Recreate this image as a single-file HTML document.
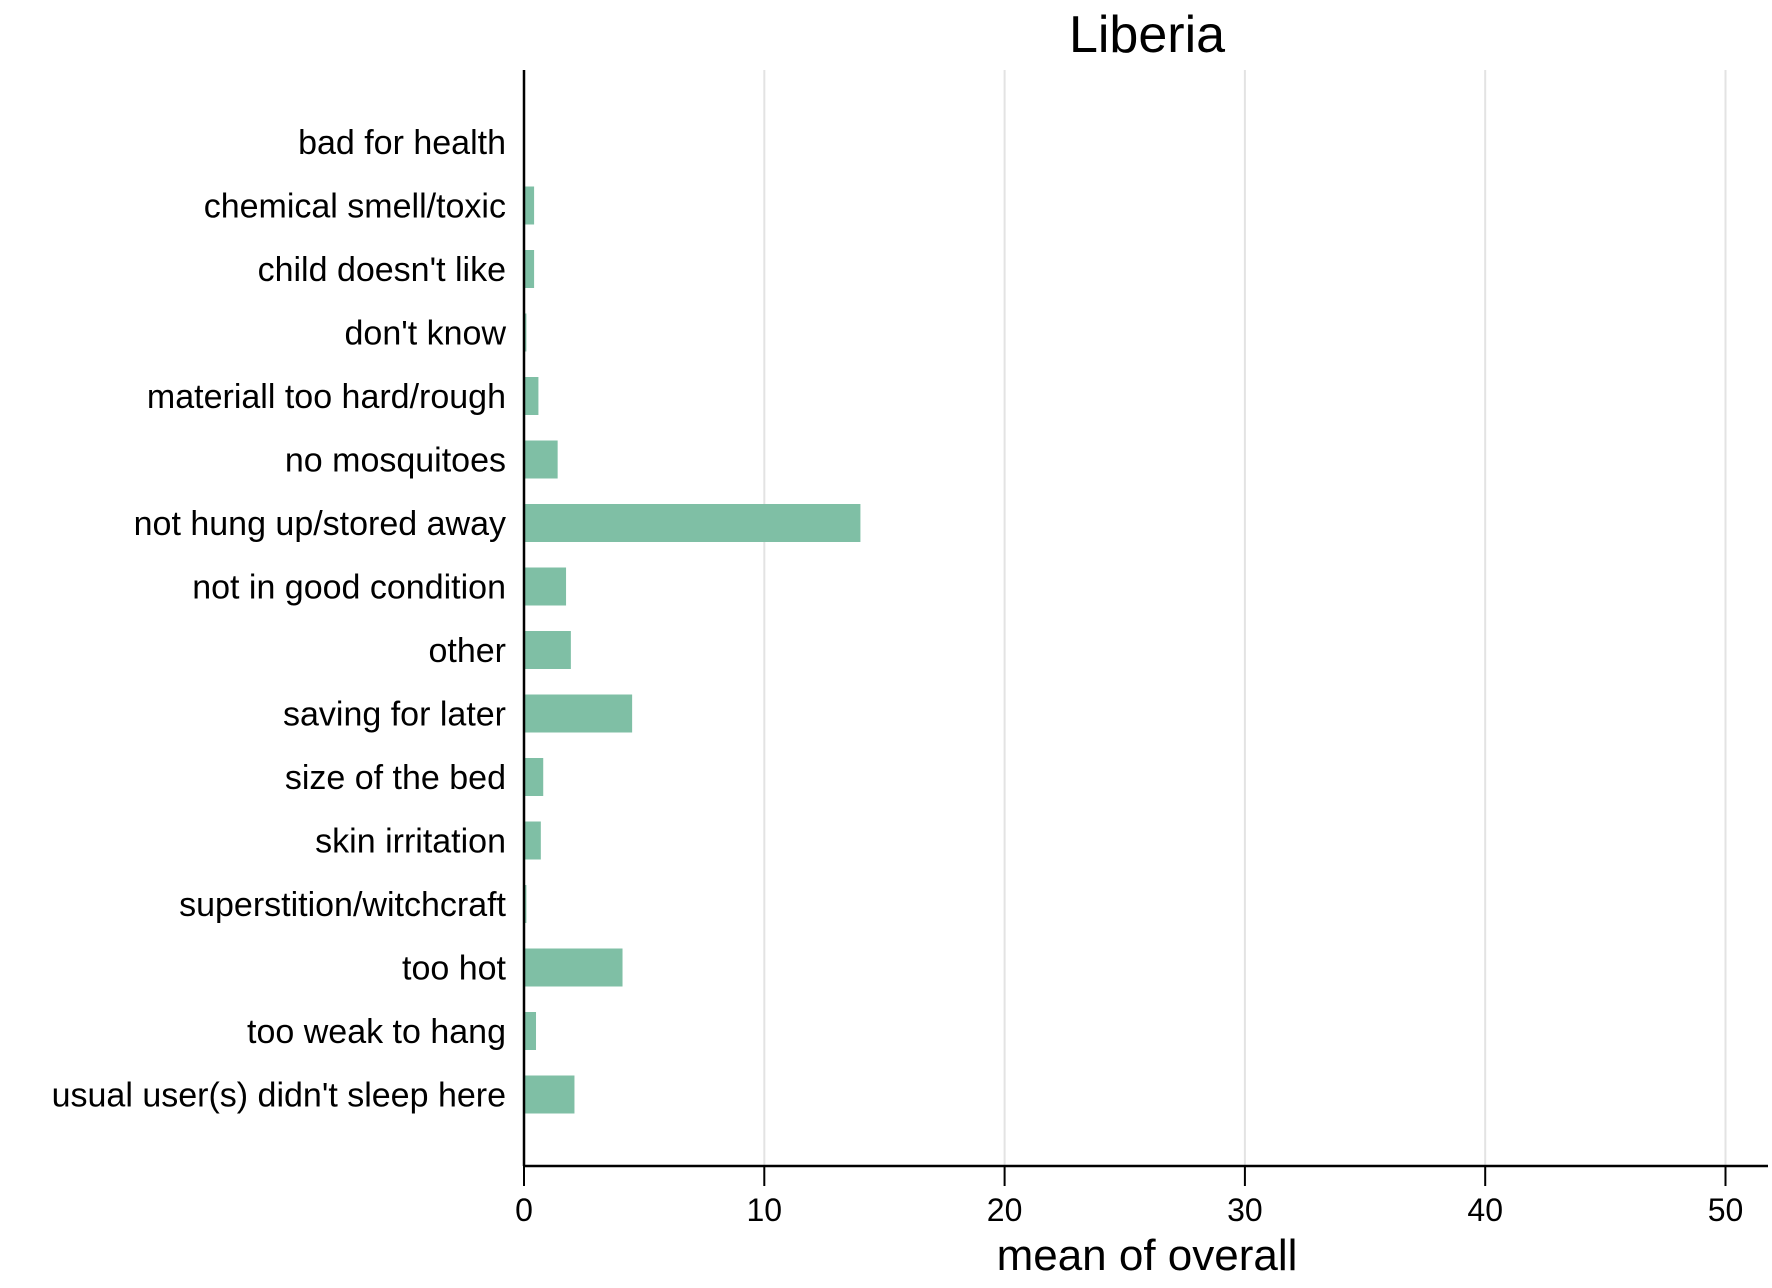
<!DOCTYPE html>
<html><head><meta charset="utf-8"><style>body{margin:0;background:#fff}svg{display:block}text{font-family:"Liberation Sans",sans-serif;fill:#000}</style></head>
<body>
<svg id="chart" width="1772" height="1288"></svg>
<script>
const categories = ["bad for health","chemical smell/toxic","child doesn't like","don't know","materiall too hard/rough","no mosquitoes","not hung up/stored away","not in good condition","other","saving for later","size of the bed","skin irritation","superstition/witchcraft","too hot","too weak to hang","usual user(s) didn't sleep here"];
const values = [0,0.42,0.42,0.1,0.6,1.4,14.0,1.75,1.95,4.5,0.8,0.7,0.1,4.1,0.5,2.1];
const xTicks = [0,10,20,30,40,50];
const ns="http://www.w3.org/2000/svg";
const svg=document.getElementById('chart');
const x0=524, pxPer=24.03, axisY=1166, topY=70;
const xs=v=>x0+v*pxPer;
const ys=i=>142+i*63.5;
function mk(t,a,p){const e=document.createElementNS(ns,t);for(const k in a)e.setAttribute(k,a[k]);(p||svg).appendChild(e);return e;}
xTicks.forEach(t=>{
  if(t>0){const g=mk('line',{x1:xs(t),x2:xs(t),y1:topY,y2:axisY,stroke:'#e3e3e3','stroke-width':2});
  
  }
  const tk=mk('line',{x1:xs(t),x2:xs(t),y1:axisY,y2:axisY+20,stroke:'#000','stroke-width':2});
  
  
  const lb=mk('text',{x:xs(t),y:1221,'text-anchor':'middle','font-size':32});
  lb.textContent=t;
  
  
});
categories.forEach((c,i)=>{
  const r=mk('rect',{x:x0,y:ys(i)-19,width:Math.max(0,values[i]*pxPer),height:38,fill:'#7fbfa5'});
  
  
  const t=mk('text',{x:506,y:ys(i)+12,'text-anchor':'end','font-size':34});
  t.textContent=c;
  
  
});
const ya=mk('line',{x1:x0,x2:x0,y1:topY,y2:axisY,stroke:'#000','stroke-width':2.5});


const xa=mk('line',{x1:x0-1,x2:1768,y1:axisY,y2:axisY,stroke:'#000','stroke-width':2.5});


const ti=mk('text',{x:1147,y:52,'text-anchor':'middle','font-size':52});
ti.textContent='Liberia';


const xt=mk('text',{x:1147,y:1270,'text-anchor':'middle','font-size':44});
xt.textContent='mean of overall';


</script>
</body></html>
